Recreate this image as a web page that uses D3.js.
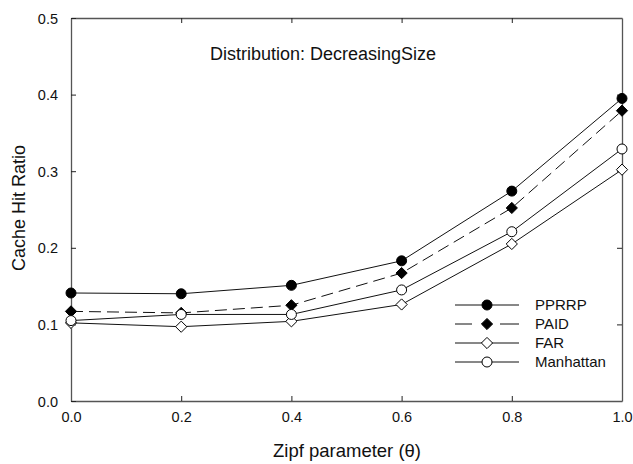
<!DOCTYPE html>
<html>
<head>
<meta charset="utf-8">
<script src="https://cdn.jsdelivr.net/npm/d3@7/dist/d3.min.js"></script>
<style>
  html, body { margin: 0; padding: 0; background: #fff; }
  svg { display: block; font-family: "Liberation Sans", Arial, sans-serif; }
</style>
</head>
<body>
<svg id="chart" width="633" height="464"></svg>
<script>
// Zipf parameter values along the x axis
const thetas = [0.0, 0.2, 0.4, 0.6, 0.8, 1.0];

// Cache hit ratio for each replacement policy
const pprrp     = [0.141, 0.140, 0.151, 0.183, 0.274, 0.395];
const paid      = [0.117, 0.115, 0.125, 0.167, 0.252, 0.379];
const far       = [0.102, 0.097, 0.104, 0.126, 0.205, 0.302];
const manhattan = [0.105, 0.113, 0.113, 0.145, 0.221, 0.329];

const seriesNames = ["PPRRP", "PAID", "FAR", "Manhattan"];
const xTicks = [0.0, 0.2, 0.4, 0.6, 0.8, 1.0];
const yTicks = [0.0, 0.1, 0.2, 0.3, 0.4, 0.5];

const series = [
  { name: seriesNames[0], values: pprrp,     marker: "circle",  fill: "#000", dash: null },
  { name: seriesNames[1], values: paid,      marker: "diamond", fill: "#000", dash: "12,6" },
  { name: seriesNames[2], values: far,       marker: "diamond", fill: "#fff", dash: null },
  { name: seriesNames[3], values: manhattan, marker: "circle",  fill: "#fff", dash: null }
];

const svg = d3.select("#chart");
const m = { left: 71, right: 622, top: 18, bottom: 401 };

const x = d3.scaleLinear().domain([0, 1]).range([m.left, m.right]);
const y = d3.scaleLinear().domain([0, 0.5]).range([m.bottom, m.top]);

const axisColor = "#555";
const fmt = d3.format(".1f");

// Frame axes with inward-pointing ticks
const gB = svg.append("g").attr("transform", `translate(0,${m.bottom})`)
  .call(d3.axisBottom(x).tickValues(xTicks).tickFormat(fmt).tickSizeInner(-5).tickSizeOuter(0).tickPadding(11));
const gT = svg.append("g").attr("transform", `translate(0,${m.top})`)
  .call(d3.axisTop(x).tickValues(xTicks.slice(1, -1)).tickFormat("").tickSizeInner(-5).tickSizeOuter(0));
const gL = svg.append("g").attr("transform", `translate(${m.left},0)`)
  .call(d3.axisLeft(y).tickValues(yTicks).tickFormat(fmt).tickSizeInner(-5).tickSizeOuter(0).tickPadding(13));
const gR = svg.append("g").attr("transform", `translate(${m.right},0)`)
  .call(d3.axisRight(y).tickValues(yTicks.slice(1, -1)).tickFormat("").tickSizeInner(-5).tickSizeOuter(0));

[gB, gT, gL, gR].forEach(g => {
  g.selectAll(".domain").attr("stroke", axisColor).attr("stroke-width", 1.3);
  g.selectAll(".tick line").attr("stroke", "#222").attr("stroke-width", 1);
  g.selectAll(".tick text").attr("fill", "#111").style("font-size", "14.5px")
    .style("font-family", "'Liberation Sans', Arial, sans-serif");
});
gL.selectAll(".tick text").attr("dy", "0.35em");
gB.selectAll(".tick text").attr("dy", "0.71em");

// Axis titles
svg.append("text")
  .attr("x", 347).attr("y", 457)
  .attr("text-anchor", "middle")
  .attr("fill", "#111")
  .style("font-size", "18.5px")
  .text("Zipf parameter (θ)");

svg.append("text")
  .attr("transform", "translate(25,208) rotate(-90)")
  .attr("text-anchor", "middle")
  .attr("fill", "#111")
  .style("font-size", "18px")
  .text("Cache Hit Ratio");

// Chart title inside the plot
svg.append("text")
  .attr("x", 323).attr("y", 60)
  .attr("text-anchor", "middle")
  .attr("fill", "#111")
  .style("font-size", "18px")
  .text("Distribution: DecreasingSize");

const line = d3.line().x(d => x(d[0])).y(d => y(d[1]));

function drawMarker(g, type, fill, cx, cy) {
  if (type === "circle") {
    g.append("circle").attr("cx", cx).attr("cy", cy).attr("r", 5)
      .attr("fill", fill).attr("stroke", "#000").attr("stroke-width", 1);
  } else {
    const s = 5.6;
    g.append("path")
      .attr("d", `M${cx},${cy - s}L${cx + s},${cy}L${cx},${cy + s}L${cx - s},${cy}Z`)
      .attr("fill", fill).attr("stroke", "#000").attr("stroke-width", 1);
  }
}

// Lines and markers for each policy
const plot = svg.append("g");
series.forEach(s => {
  const pts = thetas.map((t, i) => [t, s.values[i]]);
  plot.append("path")
    .attr("d", line(pts))
    .attr("fill", "none")
    .attr("stroke", "#111")
    .attr("stroke-width", 1)
    .attr("stroke-dasharray", s.dash);
});
series.forEach(s => {
  const g = plot.append("g");
  thetas.forEach((t, i) => drawMarker(g, s.marker, s.fill, x(t), y(s.values[i])));
});

// Legend
const legend = svg.append("g");
const legY = [305, 324, 343, 362];
series.forEach((s, i) => {
  const ly = legY[i];
  legend.append("line")
    .attr("x1", 455).attr("x2", 519).attr("y1", ly).attr("y2", ly)
    .attr("stroke", "#111").attr("stroke-width", 1)
    .attr("stroke-dasharray", s.dash ? "17,28,19" : null);
  drawMarker(legend, s.marker, s.fill, 487, ly);
  legend.append("text")
    .attr("x", 535).attr("y", ly).attr("dy", "0.35em")
    .attr("fill", "#111")
    .style("font-size", "15px")
    .text(s.name);
});
</script>
</body>
</html>
